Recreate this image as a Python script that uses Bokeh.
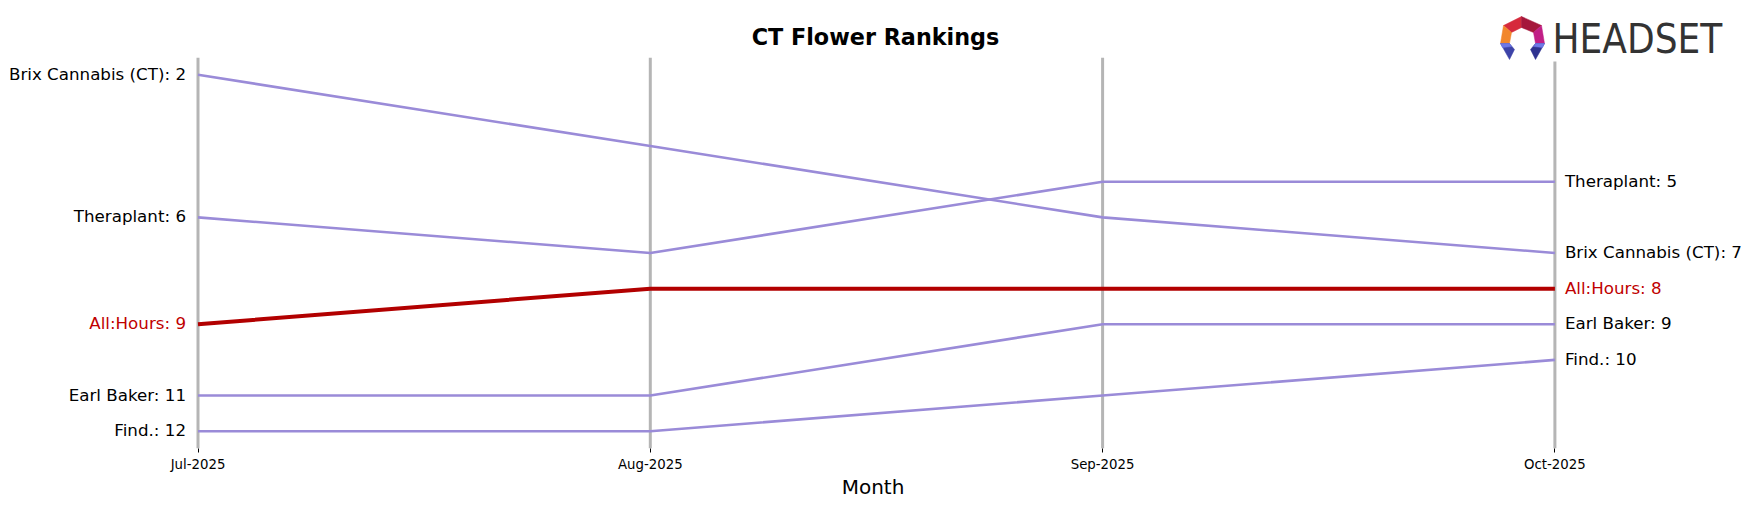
from bokeh.plotting import figure
from bokeh.models import Range1d, FixedTicker, Label, ColumnDataSource
from bokeh.core.properties import value
from bokeh.embed import file_html
from bokeh.resources import INLINE

# ---- data ----
months = ["Jul-2025", "Aug-2025", "Sep-2025", "Oct-2025"]
brands = ["Brix Cannabis (CT)", "Theraplant", "All:Hours", "Earl Baker", "Find."]
brix = [2, 4, 6, 7]
theraplant = [6, 7, 5, 5]
allhours = [9, 8, 8, 8]
earl_baker = [11, 11, 9, 9]
find_ = [12, 12, 11, 10]
ranks = [brix, theraplant, allhours, earl_baker, find_]
highlight = "All:Hours"

# ---- layout geometry (pixels inside the figure) ----
FW, FH = 1745, 448
JUL_PX, STEP = 197.5, 452.3
R2_PX, RSTEP = 74.3, 35.64


def dx(px):
    return (px - JUL_PX) / STEP


def dy(py):
    return 2 + (py - R2_PX) / RSTEP


PURPLE = "#9a8bd8"
RED_LINE = "#b20000"
RED_TEXT = "#c00000"

p = figure(frame_width=FW, frame_height=FH,
           x_range=Range1d(dx(0), dx(FW)), y_range=Range1d(dy(FH), dy(0)),
           output_backend="svg", toolbar_location=None, y_axis_location=None,
           min_border=0, min_border_left=0, min_border_right=0, min_border_top=0)
p.outline_line_color = None
p.xgrid.visible = False
p.ygrid.visible = False
p.background_fill_color = "white"
p.border_fill_color = "white"

xs_m = list(range(len(months)))

# vertical month lines
p.segment(x0=xs_m, y0=[dy(FH)] * len(xs_m), x1=xs_m, y1=[dy(57.3)] * len(xs_m),
          line_color="#b5b5b5", line_width=3)

# series
for b, r in zip(brands, ranks):
    if b != highlight:
        p.line(xs_m, r, line_color=PURPLE, line_width=2.6)
for b, r in zip(brands, ranks):
    if b == highlight:
        p.line(xs_m, r, line_color=RED_LINE, line_width=4)

colors = [RED_TEXT if b == highlight else "black" for b in brands]
left_src = ColumnDataSource(dict(
    x=[0] * len(brands), y=[r[0] for r in ranks],
    text=[f"{b}: {r[0]}" for b, r in zip(brands, ranks)], color=colors))
right_src = ColumnDataSource(dict(
    x=[len(months) - 1] * len(brands), y=[r[-1] for r in ranks],
    text=[f"{b}: {r[-1]}" for b, r in zip(brands, ranks)], color=colors))

p.text(x="x", y="y", text="text", source=left_src, text_align="right",
       text_baseline="middle", x_offset=-12, y_offset=-1, text_color="color",
       text_font=value("DejaVu Sans"), text_font_size=value("16.7px"))
p.text(x="x", y="y", text="text", source=right_src, text_align="left",
       text_baseline="middle", x_offset=10, y_offset=-1, text_color="color",
       text_font=value("DejaVu Sans"), text_font_size=value("16.7px"))

# axis
ax = p.xaxis[0]
ax.ticker = FixedTicker(ticks=xs_m)
ax.major_label_overrides = {i: m for i, m in enumerate(months)}
ax.axis_label = "Month"
ax.axis_line_color = None
ax.major_tick_in = 0
ax.major_tick_out = 4
ax.major_tick_line_color = "black"
ax.minor_tick_line_color = None
ax.major_label_text_font = "DejaVu Sans"
ax.major_label_text_font_size = "13.3px"
ax.major_label_text_color = "black"
ax.major_label_standoff = 4
ax.axis_label_text_font = "DejaVu Sans"
ax.axis_label_text_font_size = "20px"
ax.axis_label_text_font_style = "normal"
ax.axis_label_text_color = "black"
ax.axis_label_standoff = 0

# title
p.add_layout(Label(x=dx(875), y=dy(36), text="CT Flower Rankings",
                   text_align="center", text_baseline="middle",
                   text_font="DejaVu Sans", text_font_style="bold",
                   text_font_size="22.3px", text_color="black"))

# logo background (white) and icon
p.quad(left=dx(1494), right=dx(1726), top=dy(10), bottom=dy(61),
       fill_color="white", line_color=None)


def poly(pts):
    return [dx(x) for x, _ in pts], [dy(y + 2) for _, y in pts]


pieces = [
    ([(1503, 23), (1521, 14), (1521, 25), (1511, 30)], "#d62a3c"),
    ([(1521, 14), (1541, 23), (1533, 30), (1521, 25)], "#a5173b"),
    ([(1503, 23), (1511, 30), (1509, 41), (1500, 41)], "#f2872c"),
    ([(1541, 23), (1544, 41), (1535, 41), (1533, 30)], "#c11f86"),
    ([(1500, 41), (1509, 41), (1514, 47), (1509, 57)], "#3d43a8"),
    ([(1535, 41), (1544, 41), (1535, 57), (1530, 47)], "#2f3390"),
    ([(1500, 41), (1509, 41), (1511, 44), (1502, 45)], "#6f78e6"),
    ([(1535, 41), (1544, 41), (1542, 45), (1533, 44)], "#6f78e6"),
]
lx, ly, lc = [], [], []
for pts, c in pieces:
    a, b = poly(pts)
    lx.append(a)
    ly.append(b)
    lc.append(c)
p.patches(xs=lx, ys=ly, fill_color=lc, line_color=lc, line_width=0.5)

p.add_layout(Label(x=dx(1552), y=dy(38), text="HEADSET",
                   text_align="left", text_baseline="middle",
                   text_font="'Liberation Sans Narrow', 'DejaVu Sans Condensed', sans-serif",
                   text_font_size="40px", text_color="#333333"))

open("out.html", "w").write(file_html(p, INLINE))
